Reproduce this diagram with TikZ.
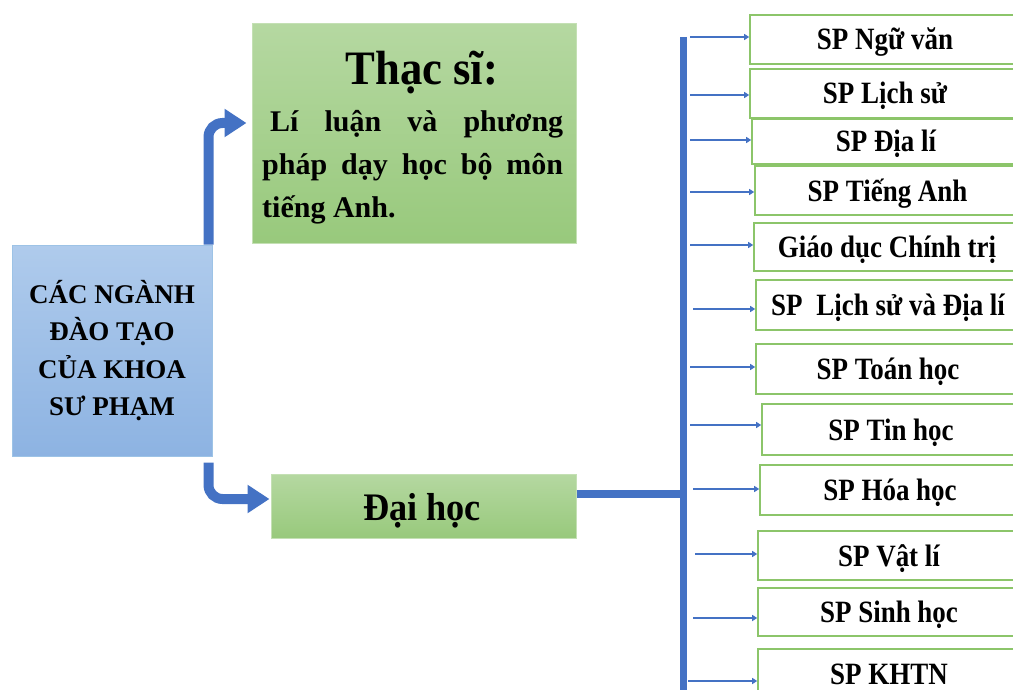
\documentclass[tikz,border=0pt]{standalone}
\usepackage{fontspec}
\setmainfont{Liberation Serif}
\newfontfamily\condfont[FakeStretch=0.87]{Liberation Serif}
\newfontfamily\semicondfont[FakeStretch=0.93]{Liberation Serif}
\usetikzlibrary{arrows.meta}
\definecolor{myblue}{HTML}{4472C4}
\definecolor{gborder}{HTML}{8CC56A}
\definecolor{gtop}{HTML}{B5D8A1}
\definecolor{gbot}{HTML}{98C97C}
\definecolor{btop}{HTML}{AFCBEC}
\definecolor{bbot}{HTML}{8DB3E2}
\definecolor{bborder}{HTML}{9DC3E6}
\tikzset{
  rbox/.style={draw=gborder, line width=1.6pt, fill=white, inner sep=0pt,
    text height=21pt, text depth=0pt,
    font=\condfont\bfseries\fontsize{31}{34}\selectfont},
  gbox/.style={draw=gtop!80!white, line width=1pt, top color=gtop, bottom color=gbot, inner sep=0pt},
  lboxstyle/.style={draw=bborder, line width=1pt, top color=btop, bottom color=bbot, inner sep=0pt,
    align=center, font=\bfseries\fontsize{27}{37.5}\selectfont},
  bigarrow/.style={draw=myblue, line width=10pt, rounded corners=14pt,
    -{Triangle[length=22pt,width=27pt]}},
  br/.style={draw=myblue, line width=2.6pt, -{Triangle[length=5pt,width=6pt]}},
  bodyline/.style={anchor=base west, inner sep=0pt, font=\bfseries\fontsize{30}{36}\selectfont}
}
\begin{document}
\begin{tikzpicture}[x=1pt,y=-1pt]
\useasboundingbox (0,0) rectangle (1013,690);
\clip (0,0) rectangle (1013,690);
\fill[white] (0,0) rectangle (1013,690);

% left box
\node[lboxstyle, minimum width=200pt, minimum height=211pt] (lb) at (112,350.5)
  {CÁC NGÀNH\\ĐÀO TẠO\\CỦA KHOA\\SƯ PHẠM};

% Thac si box
\node[gbox, minimum width=324pt, minimum height=219pt] (th) at (414,133.5) {};
\node[anchor=base, inner sep=0pt, font=\semicondfont\bfseries\fontsize{48}{52}\selectfont] (thtitle) at (422,85) {Thạc sĩ:};
\node[bodyline] (l1) at (262,132) {\makebox[301pt][s]{\hspace*{8pt}Lí luận và phương}};
\node[bodyline] (l2) at (262,175) {\makebox[301pt][s]{pháp dạy học bộ môn}};
\node[bodyline] (l3) at (262,218) {tiếng Anh.};

% Dai hoc box
\node[gbox, minimum width=305pt, minimum height=64pt] (dh) at (423.5,506) {};
\node[anchor=base, inner sep=0pt, font=\semicondfont\bfseries\fontsize{39}{42}\selectfont] (dht) at (422,520) {Đại học};

% big arrows
\draw[bigarrow] ([xshift=-4pt]lb.north east) |- ([xshift=-5pt,yshift=10.5pt]th.west);
\draw[bigarrow] ([xshift=-4pt,yshift=-6pt]lb.south east) |- ([xshift=-1pt,yshift=7pt]dh.west);

% bus
\coordinate (bustop) at (683,37);
\coordinate (busbot) at (683,690);
\draw[myblue, line width=7pt] (bustop) -- (busbot);
\draw[myblue, line width=8pt] ([yshift=12pt]dh.east) -- ([yshift=12pt]dh.east -| bustop);

% right boxes
\node[rbox, minimum width=270pt, minimum height=49pt] (r1) at (885,39.5) {SP Ngữ văn};
\node[rbox, minimum width=270pt, minimum height=49pt] (r2) at (885,93.5) {SP Lịch sử};
\node[rbox, minimum width=268pt, minimum height=45pt] (r3) at (886,141.5) {SP Địa lí};
\node[rbox, minimum width=265pt, minimum height=49pt] (r4) at (887.5,190.5) {SP Tiếng Anh};
\node[rbox, minimum width=266pt, minimum height=48pt] (r5) at (887,247) {Giáo dục Chính trị};
\node[rbox, minimum width=264pt, minimum height=50pt] (r6) at (888,305) {SP\hspace{0.45em}Lịch sử và Địa lí};
\node[rbox, minimum width=264pt, minimum height=50pt] (r7) at (888,369) {SP Toán học};
\node[rbox, minimum width=258pt, minimum height=51pt] (r8) at (891,429.5) {SP Tin học};
\node[rbox, minimum width=260pt, minimum height=50pt] (r9) at (890,490) {SP Hóa học};
\node[rbox, minimum width=262pt, minimum height=49pt] (r10) at (889,555.5) {SP Vật lí};
\node[rbox, minimum width=262pt, minimum height=48pt] (r11) at (889,612) {SP Sinh học};
\node[rbox, minimum width=262pt, minimum height=50pt] (r12) at (889,674) {SP KHTN};

% branch arrows
\coordinate (a1) at (690,37);
\coordinate (a2) at (690,95);
\coordinate (a3) at (690,140);
\coordinate (a4) at (690,192);
\coordinate (a5) at (690,245);
\coordinate (a6) at (693,309);
\coordinate (a7) at (690,367);
\coordinate (a8) at (690,425);
\coordinate (a9) at (693,489);
\coordinate (a10) at (695,554);
\coordinate (a11) at (693,618);
\coordinate (a12) at (688,681);
\draw[br] (a1) -- (a1 -| r1.west);
\draw[br] (a2) -- (a2 -| r2.west);
\draw[br] (a3) -- (a3 -| r3.west);
\draw[br] (a4) -- (a4 -| r4.west);
\draw[br] (a5) -- (a5 -| r5.west);
\draw[br] (a6) -- (a6 -| r6.west);
\draw[br] (a7) -- (a7 -| r7.west);
\draw[br] (a8) -- (a8 -| r8.west);
\draw[br] (a9) -- (a9 -| r9.west);
\draw[br] (a10) -- (a10 -| r10.west);
\draw[br] (a11) -- (a11 -| r11.west);
\draw[br] (a12) -- (a12 -| r12.west);
\end{tikzpicture}
\end{document}
